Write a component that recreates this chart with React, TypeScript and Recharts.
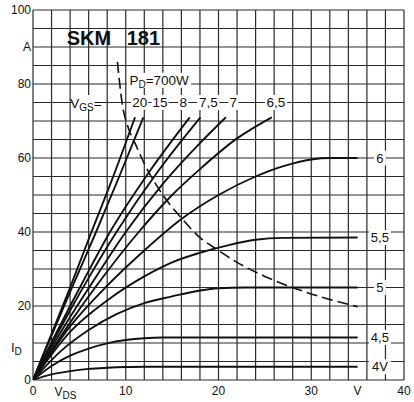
import React from 'react'
import { LineChart, Line, XAxis, YAxis, ReferenceLine, ReferenceArea, ReferenceDot } from 'recharts'

// drain current I_D (A) against drain-source voltage V_DS (V), one curve per V_GS
type Pt = [number, number]

const vgs20: Pt[] = [[0, 0], [2, 12.5], [4, 25], [6.3, 40], [8.5, 54], [11, 71]]
const vgs15: Pt[] = [[0, 0], [2, 12], [4, 23.8], [6.8, 40], [9.3, 55], [11.9, 71]]
const vgs8: Pt[] = [[0, 0], [2, 10.2], [4, 20], [6, 29.5], [8.3, 40], [12.6, 56.5], [16.9, 71]]
const vgs75: Pt[] = [[0, 0], [2, 9.6], [4, 18.8], [6, 27.6], [9, 40], [13.5, 56.5], [18.05, 71]]
const vgs7: Pt[] = [[0, 0], [2, 8.8], [4, 17], [6, 24.8], [10, 40], [14, 53], [18, 64], [20.8, 71]]
const vgs65: Pt[] = [[0, 0], [2, 8], [4, 15.5], [7, 26], [11.4, 40], [15, 50], [18, 57], [22, 65.3], [25.75, 71]]
const vgs6: Pt[] = [[0, 0], [4, 14.5], [8, 25.5], [12, 35], [16, 43.5], [20, 50], [24, 55], [27, 57.8], [30, 59.6], [32, 60], [35, 60]]
const vgs55: Pt[] = [[0, 0], [4, 13], [8, 21.5], [12, 28], [15, 31.8], [18, 34.4], [21, 36.4], [24, 37.9], [27, 38.4], [35, 38.5]]
const vgs5: Pt[] = [[0, 0], [3, 7.8], [6, 13.5], [9, 17.8], [12, 20.8], [15, 22.6], [18, 24.2], [20, 24.8], [23, 25], [35, 25]]
const vgs45: Pt[] = [[0, 0], [2, 3.8], [4, 6.6], [6, 8.5], [8, 9.9], [10, 10.8], [12, 11.3], [14, 11.5], [35, 11.5]]
const vgs4: Pt[] = [[0, 0], [2, 1.5], [4, 2.4], [6, 3.0], [8, 3.3], [10, 3.5], [12, 3.6], [35, 3.6]]

// P_D = 700 W limit
const pd700: Pt[] = [[9.1, 86], [9.6, 75], [10.3, 68], [11, 64], [12, 58.5], [14, 50], [16, 43.8], [18, 38.5], [20, 35], [22, 31.8], [25, 28], [28, 25], [31, 22.5], [35, 19.8]]

const topNames = ['20', '15', '8', '7,5', '7', '6,5']
const topCurves = [vgs20, vgs15, vgs8, vgs75, vgs7, vgs65]
const sideNames = ['6', '5,5', '5', '4,5', '4V']
const sideCurves = [vgs6, vgs55, vgs5, vgs45, vgs4]

const xTicks = [0, 10, 20, 30, 35, 40]
const yTicks = [0, 20, 40, 60, 80, 90, 100]
const gridV = [0, 2, 4, 6, 8, 10, 12, 14, 16, 18, 20, 22, 24, 26, 28, 30, 32, 34, 36, 38, 40]
const gridI = [0, 5, 10, 15, 20, 25, 30, 35, 40, 45, 50, 55, 60, 65, 70, 75, 80, 85, 90, 95, 100]

// where the annotation tags sit (V)
const topTagX = [11.5, 13.7, 16.2, 18.9, 21.6, 26.2]
const topTagW = [17, 17, 10, 22, 10, 22]
const sideTagX = 37.4

const FONT = '"Liberation Sans", Arial, sans-serif'
const INK = '#111'
const toRows = (pts: Pt[]) => pts.map(([v, i]) => ({ v, i }))

function Tag({ cx, cy, w, h = 15, size = 13.5, children }: any) {
  return (
    <g>
      <rect x={cx - w / 2} y={cy - h / 2} width={w} height={h} fill="#fff" />
      <text x={cx} y={cy} textAnchor="middle" dominantBaseline="central" fontSize={size} fontFamily={FONT} fill={INK}>
        {children}
      </text>
    </g>
  )
}

export default function App() {
  const allCurves = [...topCurves, ...sideCurves]
  return (
    <div style={{ position: 'absolute', left: 0, top: 0, background: '#fff' }}>
      <LineChart width={414} height={402} margin={{ top: 10, right: 10, left: 0, bottom: 0 }}>
        <XAxis
          dataKey="v"
          type="number"
          domain={[0, 40]}
          ticks={xTicks}
          height={22}
          axisLine={false}
          tickLine={false}
          tickSize={0}
          tickMargin={6}
          allowDataOverflow
          tickFormatter={(v) => (v === 35 ? 'V' : String(v))}
          tick={{ fontSize: 12, fill: INK, fontFamily: FONT }}
        />
        <YAxis
          type="number"
          domain={[0, 100]}
          ticks={yTicks}
          width={33}
          axisLine={false}
          tickLine={false}
          tickSize={0}
          tickMargin={2}
          allowDataOverflow
          tickFormatter={(v) => (v === 90 ? 'A' : String(v))}
          tick={{ fontSize: 12, fill: INK, fontFamily: FONT }}
        />

        {gridV.map((v) => (
          <ReferenceLine key={'v' + v} x={v} stroke="#2a2a2a" strokeWidth={1.2} />
        ))}
        {gridI.map((i) => (
          <ReferenceLine key={'i' + i} y={i} stroke="#2a2a2a" strokeWidth={1.2} />
        ))}

        <ReferenceArea x1={2.1} x2={15.3} y1={86} y2={95.6} fill="#fff" fillOpacity={1} stroke="none" />

        {allCurves.map((pts, k) => (
          <Line
            key={k}
            data={toRows(pts)}
            dataKey="i"
            type="monotone"
            dot={false}
            stroke={INK}
            strokeWidth={1.9}
            isAnimationActive={false}
          />
        ))}
        <Line
          data={toRows(pd700)}
          dataKey="i"
          type="monotone"
          dot={false}
          stroke={INK}
          strokeWidth={1.6}
          strokeDasharray="11 5"
          isAnimationActive={false}
        />

        <ReferenceDot
          x={8.6}
          y={92.4}
          r={0}
          shape={(p: any) => (
            <g fontFamily={FONT} fontWeight="bold" fontSize={20} fill={INK}>
              <text x={p.cx - 46} y={p.cy} dominantBaseline="central">SKM</text>
              <text x={p.cx + 14} y={p.cy} dominantBaseline="central">181</text>
            </g>
          )}
        />
        <ReferenceDot
          x={13.6}
          y={81}
          r={0}
          shape={(p: any) => (
            <Tag cx={p.cx} cy={p.cy} w={64}>
              <tspan>P</tspan>
              <tspan fontSize={10} dy={4}>D</tspan>
              <tspan dy={-4}>=700W</tspan>
            </Tag>
          )}
        />
        <ReferenceDot
          x={5.7}
          y={75}
          r={0}
          shape={(p: any) => (
            <Tag cx={p.cx} cy={p.cy} w={26}>
              <tspan>V</tspan>
              <tspan fontSize={10} dy={4}>GS</tspan>
              <tspan dy={-4}>=</tspan>
            </Tag>
          )}
        />
        {topNames.map((name, k) => (
          <ReferenceDot
            key={name}
            x={topTagX[k]}
            y={75}
            r={0}
            shape={(p: any) => (
              <Tag cx={p.cx} cy={p.cy} w={topTagW[k]}>
                {name}
              </Tag>
            )}
          />
        ))}
        {sideNames.map((name, k) => (
          <ReferenceDot
            key={name}
            x={sideTagX}
            y={sideCurves[k][sideCurves[k].length - 1][1]}
            r={0}
            shape={(p: any) => (
              <Tag cx={p.cx} cy={p.cy} w={name.length > 1 ? 22 : 12} size={13}>
                {name}
              </Tag>
            )}
          />
        ))}
        <ReferenceDot
          x={-1.8}
          y={8.9}
          r={0}
          ifOverflow="visible"
          shape={(p: any) => (
            <text x={p.cx} y={p.cy} textAnchor="middle" dominantBaseline="central" fontSize={13} fontFamily={FONT} fill={INK}>
              <tspan>I</tspan>
              <tspan fontSize={10} dy={4}>D</tspan>
            </text>
          )}
        />
        <ReferenceDot
          x={3.5}
          y={-3.2}
          r={0}
          ifOverflow="visible"
          shape={(p: any) => (
            <text x={p.cx} y={p.cy} textAnchor="middle" dominantBaseline="central" fontSize={12} fontFamily={FONT} fill={INK}>
              <tspan>V</tspan>
              <tspan fontSize={10} dy={3}>DS</tspan>
            </text>
          )}
        />
      </LineChart>
    </div>
  )
}
